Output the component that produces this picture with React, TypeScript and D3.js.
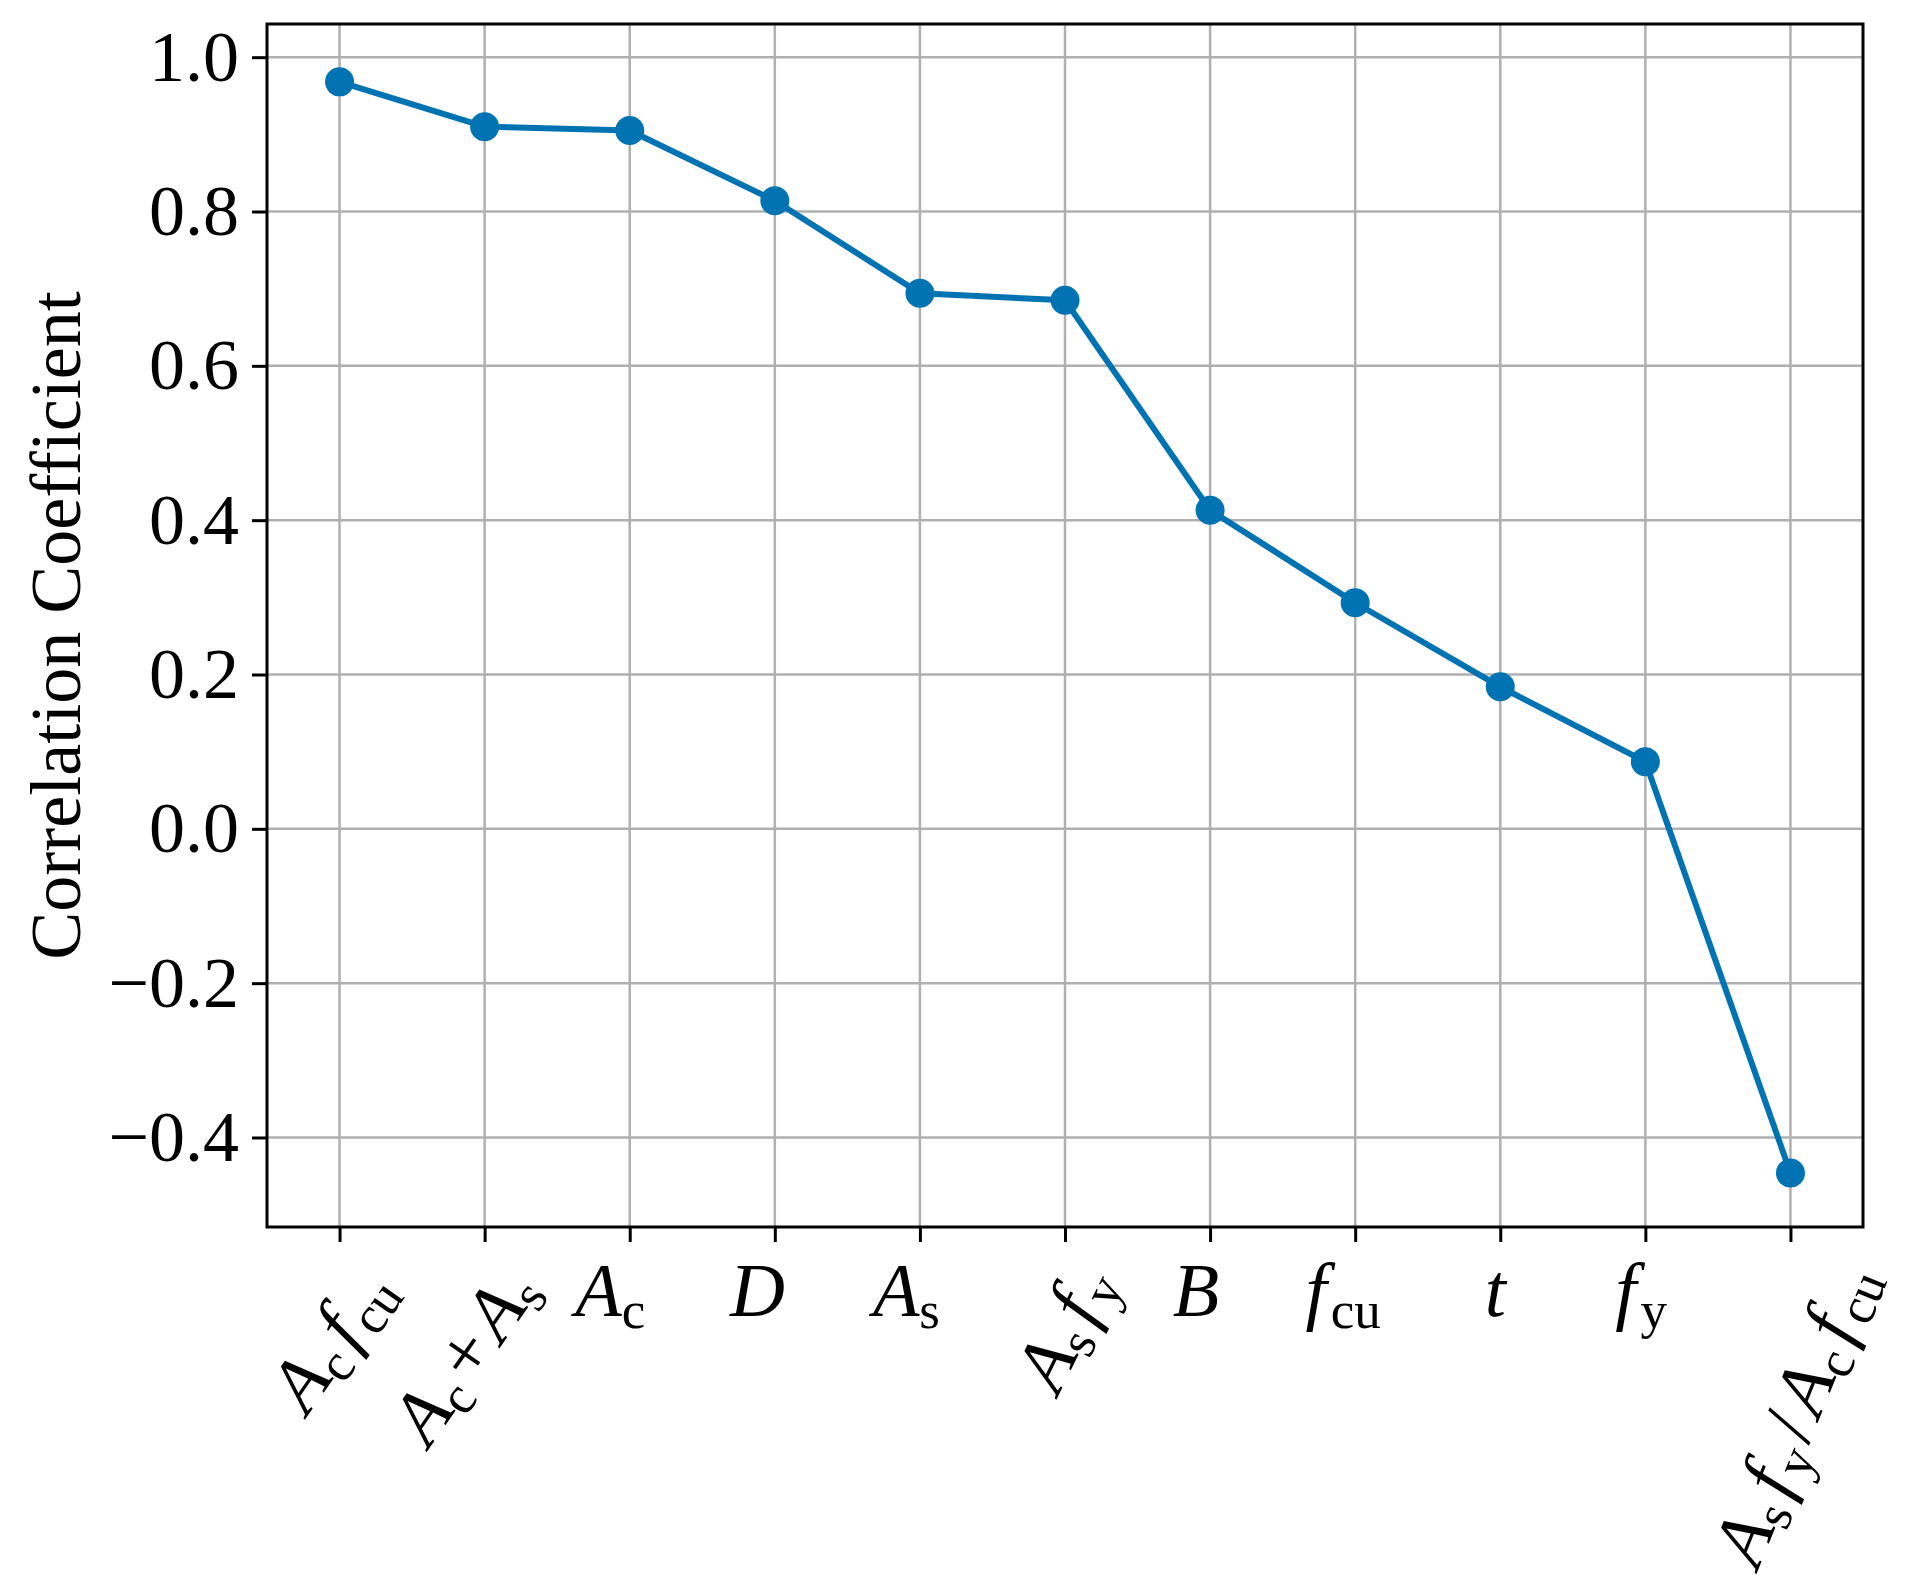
import { useEffect, useRef } from "react";
import * as d3 from "d3";

// tick labels as [text, style] runs: i = italic variable, r = upright, s = upright subscript
const tickLabels: [string, string][][] = [
  [["A", "i"], ["c", "s"], ["f", "i"], ["cu", "s"]],
  [["A", "i"], ["c", "s"], ["+", "r"], ["A", "i"], ["s", "s"]],
  [["A", "i"], ["c", "s"]],
  [["D", "i"]],
  [["A", "i"], ["s", "s"]],
  [["A", "i"], ["s", "s"], ["f", "i"], ["y", "s"]],
  [["B", "i"]],
  [["f", "i"], ["cu", "s"]],
  [["t", "i"]],
  [["f", "i"], ["y", "s"]],
  [["A", "i"], ["s", "s"], ["f", "i"], ["y", "s"], ["/", "r"], ["A", "i"], ["c", "s"], ["f", "i"], ["cu", "s"]],
];

const correlation = [0.968, 0.91, 0.905, 0.814, 0.694, 0.685, 0.413, 0.293, 0.184, 0.087, -0.446];

const yTicks = [-0.4, -0.2, 0.0, 0.2, 0.4, 0.6, 0.8, 1.0];

const W = 1905;
const H = 1594;
const margin = { left: 267, right: 1863, top: 24, bottom: 1227 };
// rotation (deg) and small horizontal nudge of each x label
const labelAngle = [55, 55, 0, 0, 0, 64, 0, 0, 0, 0, 68];
const labelNudge = [-8, -20, -22, -18, -16, 0, -14, -12, -4, -4, 5];

const serif = '"Liberation Serif", "Times New Roman", serif';
const blue = "#0173b2";

export default function App() {
  const svgRef = useRef<SVGSVGElement>(null);

  useEffect(() => {
    const svg = d3.select(svgRef.current);
    svg.selectAll("*").remove();

    const x = d3
      .scaleLinear()
      .domain([-0.5, correlation.length - 0.5])
      .range([margin.left, margin.right]);
    const y = d3.scaleLinear().domain([-0.516, 1.043]).range([margin.bottom, margin.top]);

    // grid
    const grid = svg.append("g").attr("stroke", "#b0b0b0").attr("stroke-width", 2.5);
    grid
      .selectAll(".gx")
      .data(correlation)
      .enter()
      .append("line")
      .attr("x1", (d, i) => x(i))
      .attr("x2", (d, i) => x(i))
      .attr("y1", margin.top)
      .attr("y2", margin.bottom);
    grid
      .selectAll(".gy")
      .data(yTicks)
      .enter()
      .append("line")
      .attr("x1", margin.left)
      .attr("x2", margin.right)
      .attr("y1", (d) => y(d))
      .attr("y2", (d) => y(d));

    // y axis
    const yAxis = svg
      .append("g")
      .attr("transform", `translate(${margin.left},0)`)
      .call(
        d3
          .axisLeft(y)
          .tickValues(yTicks)
          .tickSize(15)
          .tickPadding(13)
          .tickFormat((d) => d3.format(".1f")(d as number).replace("-", "\u2212"))
      );
    yAxis.select(".domain").remove();
    yAxis.selectAll("line").attr("stroke", "#000").attr("stroke-width", 3);
    yAxis
      .selectAll("text")
      .attr("font-family", serif)
      .attr("font-size", 72)
      .attr("fill", "#000");

    // x axis ticks
    const xAxis = svg
      .append("g")
      .attr("transform", `translate(0,${margin.bottom})`)
      .call(
        d3
          .axisBottom(x)
          .tickValues(d3.range(correlation.length))
          .tickSize(15)
          .tickFormat(() => "")
      );
    xAxis.select(".domain").remove();
    xAxis.selectAll("line").attr("stroke", "#000").attr("stroke-width", 3);

    // x tick labels (math style)
    const mathSize = 76;
    const subSize = 53;
    const subShift = 12;
    tickLabels.forEach((runs, i) => {
      const g = svg.append("g");
      const t = g
        .append("text")
        .attr("font-family", serif)
        .attr("text-anchor", "middle")
        .attr("fill", "#000");
      let shifted = false;
      let prev = "";
      runs.forEach(([s, style]) => {
        const ts = t.append("tspan").text(s);
        if (style === "s") {
          ts.attr("font-size", subSize).attr("dy", shifted ? 0 : subShift);
          if (prev === "f") ts.attr("dx", 4);
          shifted = true;
        } else {
          ts.attr("font-size", mathSize).attr("dy", shifted ? -subShift : 0);
          if (s === "f" && shifted) ts.attr("dx", 9);
          if (s === "/" || s === "+") ts.attr("dx", 7);
          if (prev === "/" || prev === "+") ts.attr("dx", 7);
          shifted = false;
          if (style === "i") ts.attr("font-style", "italic");
        }
        prev = s;
      });
      const bb = (t.node() as SVGTextElement).getBBox();
      const a = (labelAngle[i] * Math.PI) / 180;
      const cx = bb.x + bb.width / 2;
      const cy = bb.y + bb.height / 2;
      const rotH = bb.width * Math.sin(a) + bb.height * Math.cos(a);
      const top = labelAngle[i] ? margin.bottom + 24 : margin.bottom + 21;
      const px = x(i) + labelNudge[i];
      const py = top + rotH / 2;
      g.attr(
        "transform",
        `translate(${px},${py}) rotate(${-labelAngle[i]}) translate(${-cx},${-cy})`
      );
    });

    // y label
    svg
      .append("text")
      .attr("transform", `translate(80,${(margin.top + margin.bottom) / 2}) rotate(-90)`)
      .attr("text-anchor", "middle")
      .attr("font-family", serif)
      .attr("font-size", 72)
      .attr("fill", "#000")
      .text("Correlation Coefficient");

    // series
    const line = d3
      .line<number>()
      .x((d, i) => x(i))
      .y((d) => y(d));
    svg
      .append("path")
      .datum(correlation)
      .attr("d", line)
      .attr("fill", "none")
      .attr("stroke", blue)
      .attr("stroke-width", 6)
      .attr("stroke-linejoin", "round");
    svg
      .selectAll(".pt")
      .data(correlation)
      .enter()
      .append("circle")
      .attr("cx", (d, i) => x(i))
      .attr("cy", (d) => y(d))
      .attr("r", 14.5)
      .attr("fill", blue);

    // frame
    svg
      .append("rect")
      .attr("x", margin.left)
      .attr("y", margin.top)
      .attr("width", margin.right - margin.left)
      .attr("height", margin.bottom - margin.top)
      .attr("fill", "none")
      .attr("stroke", "#000")
      .attr("stroke-width", 3);
  }, []);

  return (
    <>
      <style>{"body{margin:0;background:#fff}"}</style>
      <svg ref={svgRef} width={W} height={H} style={{ display: "block" }} />
    </>
  );
}
